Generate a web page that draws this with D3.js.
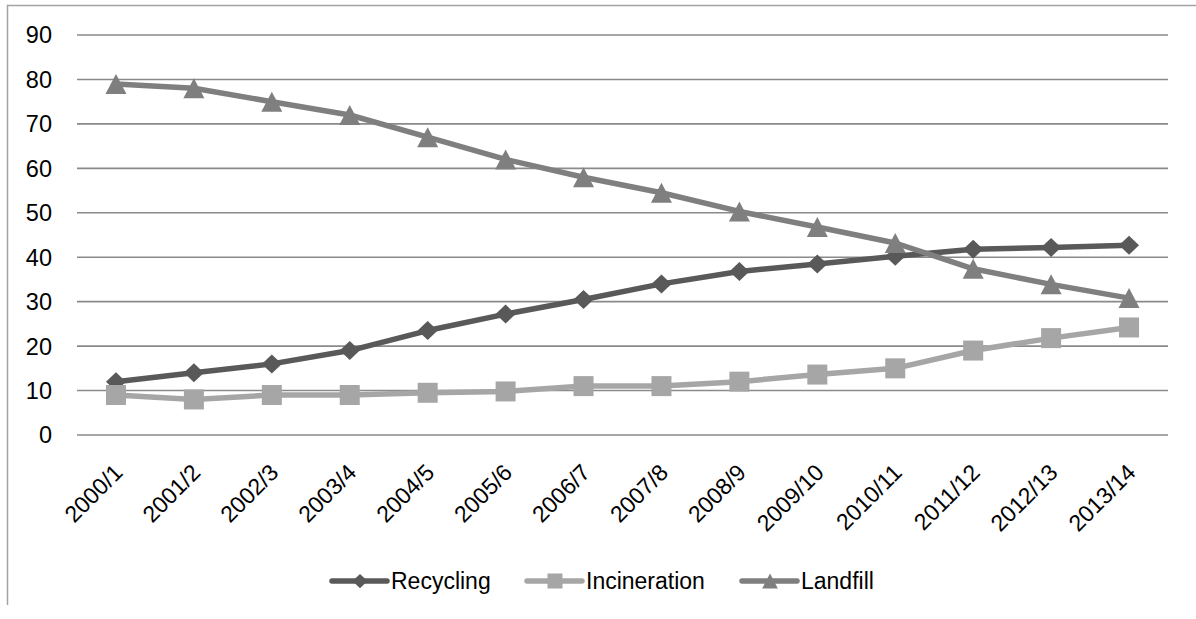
<!DOCTYPE html>
<html><head><meta charset="utf-8">
<script src="https://cdn.jsdelivr.net/npm/d3@7"></script>
<style>body{margin:0;background:#fff;}svg{display:block;font-family:"Liberation Sans",Arial,sans-serif;}</style>
</head><body>
<svg id="c" width="1196" height="619"></svg>
<script>
const categories = ["2000/1","2001/2","2002/3","2003/4","2004/5","2005/6","2006/7","2007/8","2008/9","2009/10","2010/11","2011/12","2012/13","2013/14"];
const recycling = [12,14,16,19,23.5,27.2,30.5,34,36.8,38.5,40.2,41.8,42.2,42.7];
const incineration = [9,8,9,9,9.5,9.8,11,11,12,13.6,15,19,21.8,24.2];
const landfill = [79,78,75,72,67,62,58,54.5,50.3,46.8,43.2,37.4,33.9,30.8];
const yTicks = [0,10,20,30,40,50,60,70,80,90];
const seriesNames = ["Recycling","Incineration","Landfill"];

const series = [
  {name:seriesNames[0], values:recycling, color:"#595959", marker:"diamond"},
  {name:seriesNames[1], values:incineration, color:"#a6a6a6", marker:"square"},
  {name:seriesNames[2], values:landfill, color:"#7f7f7f", marker:"triangle"}
];

const svg = d3.select("#c");
const L=77, R=1168, T=35, B=435;
const x = d3.scalePoint().domain(categories).range([L,R]).padding(0.5);
const y = d3.scaleLinear().domain([0,90]).range([B,T]);

// frame
svg.append("path").attr("d","M7.5,605 L7.5,5.5 L1196,5.5").attr("fill","none").attr("stroke","#a3a3a3").attr("stroke-width",1.5);

// grid
svg.append("g").selectAll("line").data(yTicks).join("line")
  .attr("x1",L).attr("x2",R).attr("y1",d=>y(d)).attr("y2",d=>y(d))
  .attr("stroke","#8a8a8a").attr("stroke-width",1.6);

// y labels
svg.append("g").selectAll("text").data(yTicks).join("text")
  .attr("x",52).attr("y",d=>y(d)).attr("dy","0.36em").attr("text-anchor","end")
  .attr("font-size",23.5).attr("fill","#000").text(d=>d);

// x labels
svg.append("g").selectAll("text").data(categories).join("text")
  .attr("text-anchor","end").attr("font-size",23).attr("fill","#000")
  .attr("transform",d=>`translate(${x(d)+8},${474}) rotate(-45)`).text(d=>d);

function drawMarker(g, type, cx, cy, color, scale){
  const k = scale||1;
  if(type==="diamond"){
    const w=10*k, h=9.5*k;
    g.append("path").attr("d",`M${cx},${cy-h} L${cx+w},${cy} L${cx},${cy+h} L${cx-w},${cy} Z`).attr("fill",color);
  } else if(type==="square"){
    const h=10*k;
    g.append("rect").attr("x",cx-h).attr("y",cy-h).attr("width",2*h).attr("height",2*h).attr("fill",color);
  } else {
    const w=10.5*k, hh=10*k;
    g.append("path").attr("d",`M${cx},${cy-hh} L${cx+w},${cy+hh} L${cx-w},${cy+hh} Z`).attr("fill",color);
  }
}

const line = d3.line().x((d,i)=>x(categories[i])).y(d=>y(d));
series.forEach(s=>{
  const g = svg.append("g");
  g.append("path").attr("d",line(s.values)).attr("fill","none").attr("stroke",s.color)
    .attr("stroke-width",5.5).attr("stroke-linejoin","round").attr("stroke-linecap","round");
  s.values.forEach((v,i)=>drawMarker(g,s.marker,x(categories[i]),y(v),s.color,1));
});

// legend
const legendX = [332,527,742];
const ly = 581;
series.forEach((s,i)=>{
  const g = svg.append("g");
  const x0 = legendX[i];
  g.append("line").attr("x1",x0).attr("x2",x0+55).attr("y1",ly).attr("y2",ly)
    .attr("stroke",s.color).attr("stroke-width",5.5).attr("stroke-linecap","round");
  drawMarker(g,s.marker,x0+28,ly,s.color,0.75);
  g.append("text").attr("x",x0+59).attr("y",ly).attr("dy","0.36em").attr("font-size",23)
    .attr("fill","#000").text(s.name);
});
</script>
</body></html>
